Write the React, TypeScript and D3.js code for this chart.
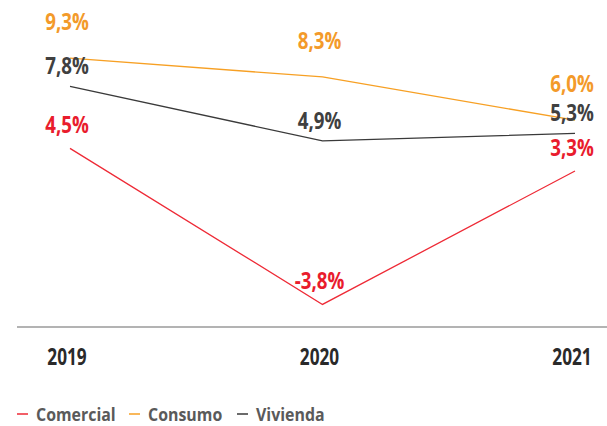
import React from "react";
import * as d3 from "d3";

const years = ["2019", "2020", "2021"];
const comercial = [4.5, -3.8, 3.3];
const consumo = [9.3, 8.3, 6.0];
const vivienda = [7.8, 4.9, 5.3];
const seriesNames = ["Comercial", "Consumo", "Vivienda"];

const W = 607;
const H = 426;
const FONT = "'Open Sans', 'Noto Sans', sans-serif";

const colors: Record<string, string> = {
  Comercial: "#ee2a36",
  Consumo: "#f7a024",
  Vivienda: "#3a3a3a",
};
const labelColors: Record<string, string> = {
  Comercial: "#e91c2d",
  Consumo: "#f39a2a",
  Vivienda: "#404040",
};
const labelOffset: Record<string, number> = {
  Comercial: 15,
  Consumo: 28,
  Vivienda: 12,
};

const fmt = (v: number) => v.toFixed(1).replace(".", ",") + "%";

function CText(props: {
  x: number;
  y: number;
  sx: number;
  size: number;
  weight: number;
  fill: string;
  anchor?: string;
  children: React.ReactNode;
}) {
  return (
    <text
      transform={`translate(${props.x},${props.y}) scale(${props.sx},1)`}
      textAnchor={props.anchor || "middle"}
      fontSize={props.size}
      fontWeight={props.weight}
      fill={props.fill}
    >
      {props.children}
    </text>
  );
}

export default function App() {
  const x = d3.scalePoint<string>().domain(years).range([70, 575]);
  const y = d3.scaleLinear().domain([-5, 10]).range([327, 45]);
  const data: Record<string, number[]> = {
    Comercial: comercial,
    Consumo: consumo,
    Vivienda: vivienda,
  };
  const line = d3
    .line<number>()
    .x((_, i) => x(years[i]) as number)
    .y((d) => y(d));

  const legendX = [17, 129, 237];

  return (
    <svg
      width={W}
      height={H}
      style={{ position: "fixed", left: 0, top: 0, background: "#fff" }}
      fontFamily={FONT}
    >
      <line x1={17} x2={W} y1={327} y2={327} stroke="#9a9a9a" strokeWidth={1.6} />
      {years.map((yr) => (
        <CText key={yr} x={(x(yr) as number) - 3} y={365} sx={0.75} size={23} weight={700} fill="#2a2a2a">
          {yr}
        </CText>
      ))}
      {seriesNames.map((s) => (
        <g key={s}>
          <path d={line(data[s]) || ""} fill="none" stroke={colors[s]} strokeWidth={1.3} />
          {data[s].map((v, i) => (
            <CText
              key={i}
              x={(x(years[i]) as number) - 3}
              y={y(v) - labelOffset[s]}
              sx={0.78}
              size={24}
              weight={700}
              fill={labelColors[s]}
            >
              {fmt(v)}
            </CText>
          ))}
        </g>
      ))}
      {seriesNames.map((s, i) => (
        <g key={s} transform={`translate(${legendX[i]},414)`}>
          <line x1={0} x2={11} y1={0} y2={0} stroke={colors[s]} strokeWidth={1.5} />
          <CText x={19} y={6.5} sx={0.86} size={18.5} weight={700} fill="#5a5a5a" anchor="start">
            {s}
          </CText>
        </g>
      ))}
    </svg>
  );
}
